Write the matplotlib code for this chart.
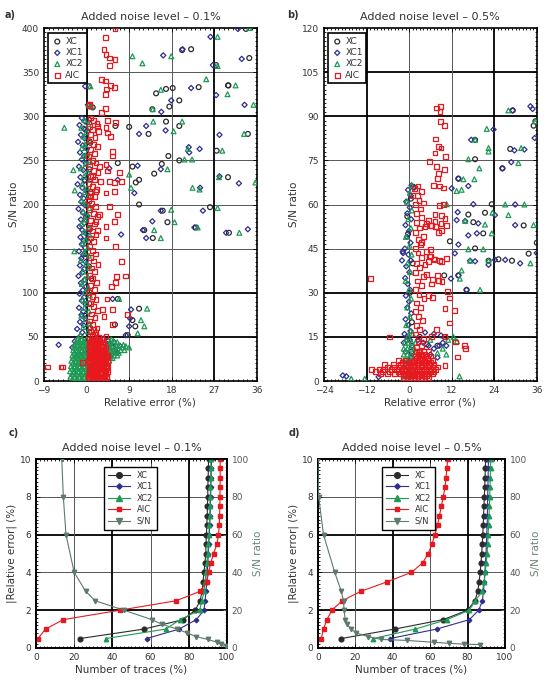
import matplotlib
matplotlib.use('Agg')
import matplotlib.pyplot as plt
import numpy as np
from matplotlib.ticker import MultipleLocator

plt.rcParams['font.family'] = 'DejaVu Sans'
plt.rcParams['xtick.direction'] = 'in'
plt.rcParams['ytick.direction'] = 'in'

# ---------------- colours ----------------
c_xc = '#2b2b2b'
c_xc1 = '#2e2e8f'
c_xc2 = '#1f9a55'
c_aic = '#e8191e'
c_sn = '#5d7a6b'
txt = '#333333'

# ---------------- panel a: noise 0.1 % (relative error %, S/N) ----------------
xc_a = [(33.7, 399), (22.1, 376), (20.2, 375), (27.4, 358), (18.2, 332), (23.7, 333), (16.8, 331),
        (29.9, 335), (14.7, 326), (13.9, 308), (17.5, 311), (19.6, 318), (6.1, 289), (9.0, 288),
        (16.8, 294), (19.6, 289), (13.1, 280), (34.1, 280), (27.5, 261), (15.9, 246), (17.3, 255),
        (19.6, 250), (14.3, 235), (11.1, 228), (10.4, 225), (9.7, 243), (6.6, 247), (29.9, 231),
        (34.4, 366), (30.0, 335), (11.1, 200), (16.1, 193), (17.1, 180), (23.1, 174), (26.1, 197),
        (30.1, 168), (14.0, 162), (12.2, 171), (11.1, 82), (9.7, 69), (10.3, 62), (8.7, 52),
        (6.6, 93), (6.0, 64), (0.5, 296), (-0.2, 285), (0.8, 270), (0.0, 255), (0.6, 240),
        (-0.4, 228), (0.9, 214), (0.2, 200), (-0.1, 186), (0.7, 172), (0.3, 158), (-0.3, 144),
        (0.5, 130), (1.0, 116), (0.1, 102), (0.6, 88), (-0.2, 74), (0.8, 60), (0.3, 48),
        (1.2, 36), (5.2, 30), (6.0, 35), (4.6, 45), (0.7, 313), (0.5, 334), (1.3, 310)]
xc1_a = [(16.2, 369), (20.3, 376), (26.2, 390), (32.0, 399), (32.8, 365), (27.4, 324), (33.4, 313),
         (22.1, 332), (28.1, 279), (23.9, 263), (21.6, 265), (21.7, 259), (15.7, 240), (10.8, 244),
         (12.6, 289), (11.1, 280), (16.7, 284), (17.9, 318), (28.1, 232), (32.2, 224), (24.0, 219),
         (10.1, 213), (4.8, 241), (6.6, 228), (26.7, 358), (15.8, 305), (15.7, 193), (13.9, 181),
         (11.9, 171), (12.6, 162), (24.6, 193), (22.8, 174), (29.5, 168), (34.1, 172), (7.3, 166),
         (9.4, 81), (9.2, 71), (9.0, 62), (8.3, 52), (-5.9, 41), (5.5, 93), (0.3, 313), (-0.3, 334),
         (-1.0, 298), (-0.3, 294), (-1.5, 290), (-0.6, 286), (0.2, 283), (-1.2, 279), (-0.4, 275),
         (-1.8, 271), (-0.8, 267), (0.1, 263), (-1.4, 259), (-0.5, 255), (-1.0, 251), (-0.2, 247),
         (-1.6, 243), (-0.7, 239), (0.3, 235), (-1.3, 231), (-0.4, 227), (-1.9, 223), (-0.9, 219),
         (0.0, 215), (-1.4, 211), (-0.6, 207), (-1.1, 203), (-0.3, 199), (-1.7, 195), (-0.8, 191),
         (0.2, 187), (-1.2, 183), (-0.5, 179), (-1.5, 175), (-0.9, 171), (-0.1, 167), (-1.3, 163),
         (-0.6, 159), (-1.0, 155), (-0.3, 151), (-1.6, 147), (-0.7, 143), (-1.1, 139), (-0.2, 135),
         (-1.4, 131), (-0.5, 127), (-0.9, 123), (-1.7, 119), (-0.4, 115), (-1.2, 111), (-0.1, 107),
         (-0.8, 103), (-1.5, 99), (-0.5, 95), (-1.0, 91), (-0.2, 87), (-1.6, 83), (-0.7, 79),
         (-1.1, 75), (-0.3, 71), (-1.4, 67), (-0.6, 63), (-2.0, 59), (-0.9, 55), (-1.3, 51),
         (-2.5, 45), (-3.0, 38), (-1.8, 30), (4.5, 42), (5.5, 38), (3.8, 20), (5.0, 28),
         (-2.2, 12), (6.5, 32), (4.2, 10), (5.8, 44), (7.0, 40), (3.5, 48)]
xc2_a = [(27.7, 390), (9.7, 368), (17.9, 368), (11.8, 360), (15.7, 330), (25.3, 342), (31.5, 335),
         (29.8, 325), (35.3, 313), (14.0, 308), (14.1, 294), (20.2, 294), (18.4, 283), (33.3, 280),
         (28.7, 261), (21.4, 263), (22.3, 251), (20.7, 251), (17.1, 240), (9.0, 234), (22.4, 219),
         (35.7, 225), (9.4, 219), (-4.7, 287), (-2.8, 239), (-2.5, 216), (27.7, 357), (28.0, 231),
         (23.9, 217), (34.4, 400), (17.9, 194), (18.6, 180), (15.7, 162), (14.3, 171), (23.5, 174),
         (27.7, 196), (32.3, 168), (12.8, 82), (11.5, 69), (12.2, 62), (10.8, 54), (-2.6, 147),
         (6.9, 93), (0.8, 334), (1.0, 311), (0.4, 313),
         (-0.5, 296), (0.4, 291), (-1.1, 287), (0.0, 282), (-0.7, 277), (0.6, 273), (-0.3, 268),
         (-1.0, 264), (0.2, 259), (-0.6, 255), (0.7, 250), (-0.2, 246), (-1.2, 241), (0.3, 237),
         (-0.5, 232), (0.8, 228), (-0.9, 223), (0.1, 219), (-0.4, 214), (0.5, 210), (-1.1, 205),
         (-0.1, 201), (0.6, 196), (-0.7, 192), (0.2, 187), (-0.3, 183), (-1.0, 178), (0.4, 174),
         (-0.6, 169), (0.7, 165), (-0.2, 160), (-0.8, 156), (0.3, 151), (-0.5, 146), (0.5, 142),
         (-1.2, 137), (-0.1, 133), (0.6, 128), (-0.7, 124), (0.2, 119), (-0.4, 115), (-1.0, 110),
         (0.4, 106), (-0.3, 101), (0.7, 97), (-0.8, 92), (0.1, 88), (-0.5, 83), (0.5, 79),
         (-1.1, 74), (-0.2, 70), (0.6, 65), (-0.7, 61), (0.3, 56), (-1.3, 52),
         (-3.0, 2), (-2.0, 2), (-1.0, 2), (0.0, 2), (0.8, 2),
         (-3.4, 5), (-2.5, 5), (-1.5, 5), (-0.5, 5), (0.5, 5),
         (-3.1, 8), (-2.1, 8), (-1.1, 8), (-0.1, 8), (0.9, 8),
         (-3.5, 11), (-2.6, 11), (-1.6, 11), (-0.6, 11), (0.4, 11),
         (-3.0, 14), (-2.0, 14), (-1.0, 14), (0.0, 14), (0.9, 14),
         (-3.3, 17), (-2.4, 17), (-1.4, 17), (-0.4, 17), (0.6, 17),
         (-2.9, 20), (-1.9, 20), (-0.9, 20), (0.1, 20), (1.0, 20),
         (-3.2, 23), (-2.2, 23), (-1.2, 23), (-0.2, 23), (0.7, 23), (4.8, 23),
         (-2.8, 26), (-1.8, 26), (-0.8, 26), (0.2, 26), (4.5, 26), (5.5, 26),
         (-3.0, 29), (-2.0, 29), (-1.0, 29), (0.0, 29), (4.6, 29), (5.8, 29), (6.5, 29),
         (-2.6, 32), (-1.6, 32), (-0.6, 32), (0.4, 32), (4.5, 32), (5.5, 32), (6.8, 32),
         (-2.8, 35), (-1.9, 35), (-0.9, 35), (0.1, 35), (4.4, 35), (5.6, 35), (7.2, 35), (8.0, 35),
         (-2.4, 38), (-1.5, 38), (-0.5, 38), (0.5, 38), (4.6, 38), (6.0, 38), (7.5, 38), (9.0, 38),
         (-2.6, 41), (-1.7, 41), (-0.7, 41), (0.3, 41), (4.8, 41), (6.3, 41), (7.8, 41),
         (-2.2, 44), (-1.3, 44), (-0.3, 44), (0.6, 44), (5.0, 44), (6.5, 44),
         (-2.0, 47), (-1.0, 47), (0.0, 47), (0.8, 47), (5.2, 47),
         (-2.5, 3.5), (-1.5, 3.5), (-0.5, 3.5), (0.4, 3.5),
         (-2.7, 9.5), (-1.7, 9.5), (-0.7, 9.5), (0.3, 9.5),
         (-2.5, 15.5), (-1.5, 15.5), (-0.5, 15.5), (0.5, 15.5),
         (-2.4, 21.5), (-1.4, 21.5), (-0.4, 21.5), (0.5, 21.5),
         (-2.3, 27.5), (-1.3, 27.5), (-0.3, 27.5), (5.0, 27.5),
         (-2.1, 33.5), (-1.1, 33.5), (-0.1, 33.5), (5.0, 33.5), (6.2, 33.5),
         (-2.0, 39.5), (-1.0, 39.5), (0.0, 39.5), (5.3, 39.5), (6.8, 39.5), (8.3, 39.5),
         (-1.6, 45.5), (-0.6, 45.5), (5.7, 45.5)]
aic_a = [(6.0, 399), (4.0, 389), (3.7, 376), (4.1, 370), (4.8, 366), (6.0, 364), (4.8, 358), (3.1, 342),
         (4.0, 340), (5.9, 333), (4.2, 331), (5.1, 335), (4.0, 325), (4.0, 309), (3.2, 304),
         (0.6, 314), (0.6, 312), (4.4, 295), (6.2, 293), (4.1, 287), (4.4, 281), (5.1, 277),
         (5.5, 260), (5.4, 255), (2.3, 289), (2.7, 243), (4.1, 245), (4.4, 238), (6.9, 236),
         (1.3, 232), (3.0, 226), (4.8, 226), (5.9, 225), (2.0, 215), (4.1, 213), (0.9, 209),
         (7.3, 226), (5.9, 215), (4.8, 198), (2.7, 189), (6.6, 189), (2.0, 181), (4.1, 175),
         (5.9, 181), (2.3, 171), (4.1, 162), (6.1, 152), (7.3, 135), (8.3, 119), (6.4, 118),
         (6.2, 112), (5.2, 107), (4.3, 93), (3.4, 81), (5.5, 81), (3.7, 73), (8.7, 75), (5.5, 64),
         (4.1, 51), (-8.3, 16), (-5.4, 16), (-5.1, 16), (-0.8, 21),
         (0.8, 298), (1.5, 295), (2.2, 292), (0.6, 288), (1.2, 285), (2.6, 283), (0.9, 279),
         (1.8, 276), (0.5, 272), (1.4, 268), (2.3, 266), (0.8, 262), (1.6, 258), (0.4, 254),
         (1.2, 250), (2.0, 247), (0.7, 243), (1.5, 239), (2.4, 236), (0.9, 232), (1.7, 228),
         (0.5, 224), (1.3, 220), (2.1, 217), (0.8, 213), (1.6, 209), (0.4, 205), (1.1, 201),
         (1.9, 198), (0.7, 194), (1.5, 190), (2.3, 186), (0.9, 182), (1.6, 178), (0.5, 174),
         (1.3, 170), (2.0, 166), (0.8, 162), (1.4, 158), (0.6, 153), (1.2, 148), (1.9, 144),
         (0.8, 140), (1.5, 136), (2.4, 132), (1.0, 128), (1.7, 124), (0.6, 120), (1.3, 116),
         (2.1, 112), (0.9, 108), (1.6, 104), (0.5, 100), (1.2, 96), (2.0, 92), (0.8, 88),
         (1.5, 84), (2.3, 80), (1.0, 76), (1.8, 72), (0.6, 68), (1.3, 64), (2.2, 60), (0.9, 56),
         (1.6, 53), (2.5, 50),
         (0.6, 2), (1.4, 2), (2.2, 2), (3.0, 2), (3.8, 2),
         (0.4, 5), (1.2, 5), (2.0, 5), (2.8, 5), (3.6, 5), (4.3, 5),
         (0.7, 8), (1.5, 8), (2.3, 8), (3.1, 8), (3.9, 8),
         (0.5, 11), (1.3, 11), (2.1, 11), (2.9, 11), (3.7, 11), (4.4, 11),
         (0.8, 14), (1.6, 14), (2.4, 14), (3.2, 14), (4.0, 14),
         (0.5, 17), (1.3, 17), (2.1, 17), (2.9, 17), (3.7, 17), (4.5, 17),
         (0.7, 20), (1.5, 20), (2.3, 20), (3.1, 20), (3.9, 20),
         (0.4, 23), (1.2, 23), (2.0, 23), (2.8, 23), (3.6, 23), (4.4, 23),
         (0.8, 26), (1.6, 26), (2.4, 26), (3.2, 26), (4.0, 26),
         (0.5, 29), (1.3, 29), (2.1, 29), (2.9, 29), (3.7, 29), (4.5, 29),
         (0.7, 32), (1.5, 32), (2.3, 32), (3.1, 32), (3.9, 32),
         (0.5, 35), (1.3, 35), (2.1, 35), (2.9, 35), (3.7, 35),
         (0.8, 38), (1.6, 38), (2.4, 38), (3.2, 38), (4.0, 38),
         (0.6, 41), (1.4, 41), (2.2, 41), (3.0, 41), (3.6, 41),
         (0.9, 44), (1.7, 44), (2.5, 44), (3.3, 44),
         (0.7, 47), (1.5, 47), (2.3, 47), (3.1, 47),
         (1.0, 3.5), (1.8, 3.5), (2.6, 3.5), (3.4, 3.5), (4.2, 3.5),
         (0.8, 9.5), (1.6, 9.5), (2.4, 9.5), (3.2, 9.5), (4.0, 9.5),
         (1.0, 15.5), (1.8, 15.5), (2.6, 15.5), (3.4, 15.5), (4.2, 15.5),
         (0.9, 21.5), (1.7, 21.5), (2.5, 21.5), (3.3, 21.5), (4.1, 21.5),
         (1.0, 27.5), (1.8, 27.5), (2.6, 27.5), (3.4, 27.5), (4.2, 27.5),
         (0.9, 33.5), (1.7, 33.5), (2.5, 33.5), (3.3, 33.5),
         (1.0, 39.5), (1.8, 39.5), (2.6, 39.5), (3.4, 39.5),
         (1.1, 45.5), (1.9, 45.5), (2.7, 45.5), (1.2, 52), (2.0, 55), (1.4, 58)]

# ---------------- panel b: noise 0.5 % ----------------
xc_b = [(29.2, 92.0), (35.6, 88.3), (35.1, 86.8), (18.6, 82.0), (28.5, 78.9), (26.3, 72.3),
        (18.6, 75.4), (13.9, 68.8), (23.3, 60.1), (21.4, 57.2), (32.3, 52.9), (18.1, 54.0),
        (20.9, 50.2), (11.5, 47.5), (18.6, 45.1), (36.0, 47.0), (33.7, 43.3), (22.4, 40.9),
        (25.2, 41.4), (29.0, 40.9), (9.9, 35.9), (16.2, 31.0), (16.7, 56.6), (13.9, 35.9),
        (0.5, 62), (-0.3, 50), (1.0, 40), (0.2, 30), (0.8, 20), (-0.5, 14), (3.0, 15),
        (5.0, 12.5), (8.0, 12), (10.0, 15), (-0.5, 56), (1.2, 66), (0.6, 10), (-1.0, 6)]
xc1_b = [(29.2, 92.0), (34.2, 93.4), (34.8, 92.5), (35.4, 82.6), (23.8, 85.5), (17.5, 82.0),
         (29.7, 78.4), (32.5, 78.7), (28.8, 74.4), (26.3, 72.3), (13.9, 68.8), (16.7, 66.3),
         (12.0, 65.5), (1.4, 65.7), (0.7, 66.5), (18.1, 60.1), (29.9, 60.0), (24.2, 56.4),
         (29.9, 53.0), (13.4, 54.7), (15.8, 54.4), (19.5, 53.6), (19.1, 50.2), (16.7, 49.5),
         (13.9, 46.4), (12.9, 43.4), (-1.7, 43.5), (36.0, 43.5), (17.2, 40.9), (18.6, 40.7),
         (24.2, 41.2), (27.1, 41.2), (31.3, 40.0), (22.4, 39.5), (13.9, 35.9), (11.8, 34.8),
         (16.2, 31.0), (13.7, 57.4), (-18.7, 1.9), (-17.7, 1.6), (-8.6, 1.4),
         (-0.3, 65), (0.5, 63), (-0.8, 61), (0.2, 59), (-0.5, 57), (0.6, 55), (-1.0, 53),
         (0.0, 51), (-0.6, 49), (0.4, 47), (-1.2, 45), (-0.2, 43), (0.5, 41), (-0.8, 39),
         (0.1, 37), (-1.1, 35), (-0.4, 33), (0.3, 31), (-0.9, 29), (0.0, 27), (-0.5, 25),
         (0.6, 23), (-1.0, 21), (-0.2, 19), (0.4, 17), (-1.3, 16), (-0.6, 15), (0.2, 14),
         (-1.5, 13), (2.5, 14), (4.0, 13), (5.5, 12), (7.0, 11), (8.5, 12), (9.5, 13),
         (6.0, 9), (8.0, 8), (3.0, 10), (10.5, 12), (9.0, 15.5), (4.5, 16.5), (7.0, 16),
         (-1.8, 44), (-2.0, 41), (-1.5, 2), (-0.5, 5), (0.5, 8), (1.5, 3), (-1.0, 10), (0.8, 12)]
xc2_b = [(28.0, 92.0), (35.6, 88.3), (21.9, 85.7), (18.6, 82.0), (22.4, 79.2), (22.4, 78.0),
         (31.6, 79.2), (30.8, 74.1), (19.8, 72.3), (16.7, 75.4), (15.3, 68.6), (18.4, 68.6),
         (14.8, 65.0), (13.4, 64.6), (0.7, 66.5), (10.6, 60.1), (27.1, 60.0), (32.5, 60.0),
         (23.5, 57.2), (28.0, 56.4), (35.1, 53.0), (15.8, 54.4), (21.4, 53.2), (23.3, 50.2),
         (16.7, 44.8), (20.9, 44.8), (17.2, 40.9), (22.4, 40.9), (34.2, 40.0), (14.8, 37.6),
         (14.3, 34.8), (20.0, 31.0), (-16.3, 0.8), (-12.5, 0.8), (14.2, 1.6),
         (0.2, 64), (-0.6, 61), (0.8, 58), (-0.2, 55), (0.5, 52), (-0.9, 49), (0.1, 46),
         (0.7, 43), (-0.4, 40), (0.3, 37), (-1.0, 34), (0.0, 31), (0.6, 28), (-0.5, 25),
         (0.2, 22), (-0.8, 19), (0.4, 17), (1.0, 16), (-0.3, 15),
         (-1.5, 1), (-0.5, 1), (0.5, 1), (1.5, 1), (-1.5, 3), (-0.5, 3), (0.5, 3), (1.5, 3),
         (-1.5, 5), (-0.5, 5), (0.5, 5), (1.5, 5), (-1.5, 7), (-0.5, 7), (0.5, 7), (1.5, 7),
         (-1.5, 9), (-0.5, 9), (0.5, 9), (1.5, 9), (-1.5, 11), (-0.5, 11), (0.5, 11), (1.5, 11),
         (-1.2, 13), (-0.2, 13), (0.8, 13), (1.8, 13), (5.0, 6), (7.0, 4), (9.5, 11),
         (11.0, 14), (12.5, 15), (13.5, 13.5), (8.0, 9.5), (6.0, 14), (10.5, 9)]
aic_b = [(7.7, 92.8), (8.9, 93.4), (8.7, 91.7), (8.9, 88.3), (9.9, 86.8), (7.5, 82.3), (8.2, 79.8),
         (9.0, 79.2), (7.3, 77.5), (10.3, 76.4), (5.8, 74.5), (7.7, 72.9), (9.9, 71.8), (8.2, 70.6),
         (8.0, 68.8), (6.8, 66.5), (8.5, 66.3), (9.6, 65.6), (1.1, 63.1), (2.5, 66.3),
         (-10.8, 34.8), (-5.5, 15.0), (10.8, 30.3), (11.5, 28.2), (10.1, 24.6), (12.7, 24.0),
         (11.5, 19.7), (7.7, 17.4), (10.1, 15.2), (13.0, 13.3), (15.6, 12.1), (15.8, 11.0),
         (13.7, 8.2), (10.1, 5.3), (6.3, 15.2), (8.2, 34.2), (9.3, 33.7), (6.3, 33.0), (4.9, 36.3),
         (6.1, 44.6), (5.8, 42.4), (7.1, 41.3), (9.2, 40.7), (10.6, 41.6), (6.3, 53.0),
         (7.3, 54.2), (10.1, 55.2), (9.2, 56.4), (8.5, 59.8), (9.6, 60.0), (3.5, 47.1),
         (8.2, 50.5), (9.2, 51.1), (4.9, 53.5), (7.3, 56.7),
         (-1.5, 1), (-0.5, 1), (0.5, 1), (1.5, 1), (2.5, 1), (3.5, 1), (4.5, 1), (5.5, 1),
         (-8.0, 2.5), (-6.0, 2.5), (-4.0, 2.5), (-2.5, 2.5), (-1.5, 2.5), (-0.5, 2.5), (0.5, 2.5),
         (1.5, 2.5), (2.5, 2.5), (3.5, 2.5), (4.5, 2.5), (5.5, 2.5), (6.5, 2.5),
         (-10.5, 4), (-8.5, 4), (-7.0, 4), (-5.0, 4), (-3.5, 4), (-2.0, 4), (-1.0, 4), (0.0, 4),
         (1.0, 4), (2.0, 4), (3.0, 4), (4.0, 4), (5.0, 4), (6.0, 4), (7.5, 4),
         (-7.0, 5.5), (-4.5, 5.5), (-2.5, 5.5), (-1.0, 5.5), (0.5, 5.5), (1.5, 5.5), (2.5, 5.5),
         (3.5, 5.5), (4.5, 5.5), (5.5, 5.5), (7.0, 5.5),
         (-3.0, 7), (-1.0, 7), (1.5, 7), (2.5, 7), (3.5, 7), (4.5, 7), (5.5, 7), (6.5, 7),
         (1.8, 8.5), (2.8, 8.5), (3.8, 8.5), (4.8, 8.5), (6.0, 8.5),
         (2.0, 10), (3.0, 10), (4.0, 10), (5.5, 10),
         (-1.0, 1.8), (0.0, 1.8), (1.0, 1.8), (2.0, 1.8), (3.0, 1.8), (4.0, 1.8), (5.0, 1.8),
         (-9.5, 3.2), (-7.5, 3.2), (-5.5, 3.2), (-3.0, 3.2), (-2.0, 3.2), (-1.0, 3.2), (0.0, 3.2),
         (1.0, 3.2), (2.0, 3.2), (3.0, 3.2), (4.0, 3.2), (5.0, 3.2), (6.0, 3.2), (7.0, 3.2),
         (-6.0, 4.8), (-4.0, 4.8), (-3.0, 4.8), (-1.5, 4.8), (-0.5, 4.8), (0.5, 4.8), (1.5, 4.8),
         (2.5, 4.8), (3.5, 4.8), (4.5, 4.8), (5.5, 4.8), (6.5, 4.8), (8.0, 4.8),
         (-2.0, 6.2), (0.0, 6.2), (1.0, 6.2), (2.0, 6.2), (3.0, 6.2), (4.0, 6.2), (5.0, 6.2),
         (6.0, 6.2), (2.2, 7.8), (3.2, 7.8), (4.2, 7.8), (5.2, 7.8), (2.5, 9.2), (3.5, 9.2),
         (4.5, 9.2),
         (2.0, 11.5), (3.5, 12), (2.5, 13.5), (4.0, 14.5), (1.8, 16), (3.0, 17.5), (2.2, 19),
         (3.8, 20.5), (2.6, 22), (1.7, 23.5), (3.2, 25), (2.0, 26.5), (4.2, 28), (2.8, 29.5),
         (5.5, 29), (6.5, 28.5), (1.9, 31), (3.4, 32.5), (2.3, 34), (4.0, 35.5), (6.5, 34.5),
         (8.0, 36), (1.8, 37), (3.0, 38.5), (4.5, 39.5), (2.2, 40), (5.5, 40.5), (7.0, 41.5),
         (8.5, 41), (6.0, 42.5), (3.6, 42), (2.5, 43.5), (4.8, 44), (1.9, 45), (3.2, 46.5),
         (2.6, 48), (4.0, 49), (1.8, 50.5), (3.0, 52), (4.5, 52.5), (6.0, 53), (7.5, 52.5),
         (9.0, 53.5), (10.5, 53), (5.5, 54.5), (2.2, 54), (3.6, 55.5), (2.0, 57), (3.2, 58.5),
         (1.7, 60), (2.8, 61.5), (4.0, 60.5), (2.4, 63), (3.5, 64.5), (1.6, 65.5)]

# ---------------- panels c/d: cumulative curves ----------------
err_levels = [0.5, 1.0, 1.5, 2.0, 2.5, 3.0, 3.5, 4.0, 4.5, 5.0, 5.5, 6.0, 6.5, 7.0, 7.5, 8.0,
              8.5, 9.0, 9.5, 10.0]
xc_c = [23, 56.6, 77, 83.4, 86, 87, 87.5, 88, 88.5, 89, 89, 89.3, 89.5, 89.7, 89.8, 90, 90, 90.2, 90.3, 90.4]
xc1_c = [58, 75, 84, 88, 88.6, 89, 89.5, 89.8, 90, 90.3, 90.5, 90.8, 91, 91.2, 91.3, 91.5, 91.6, 91.7, 91.8, 92]
xc2_c = [36.7, 68, 75.5, 85.7, 87, 88, 88.6, 89, 89.5, 90, 90.3, 90.6, 90.8, 91, 91.1, 91.3, 91.4, 91.5, 91.6, 91.6]
aic_c = [1, 5, 14.3, 44, 73.4, 86, 89.5, 90.4, 91.6, 93, 94.8, 95.6, 96, 96.2, 96.3, 96.4, 96.4, 96.5, 96.5, 96.5]
sn_c_x = [13.5, 14.3, 15.7, 20, 26, 31, 46, 60.7, 66, 74, 79, 84, 90, 95, 97, 99.6]
sn_c_y = [100, 80, 60, 40, 30, 25, 20, 15, 12.5, 10, 8, 6, 4.5, 3, 2, 1]

xc_d = [12.5, 41, 67, 80, 84, 85.5, 86.2, 86.8, 87.2, 87.6, 87.9, 88.2, 88.4, 88.6, 88.8, 89,
        89.2, 89.4, 89.5, 89.7]
xc1_d = [38.6, 63.5, 81, 86, 88, 88.5, 89, 89.3, 89.6, 89.9, 90.1, 90.3, 90.5, 90.6, 90.7,
         90.8, 90.9, 91, 91.1, 91.2]
xc2_d = [29.7, 52, 69, 81, 84, 88, 88.8, 89.5, 90, 90.5, 90.8, 91, 91.3, 91.5, 91.7, 91.9,
         92, 92.2, 92.3, 92.5]
aic_d = [1.8, 3, 4.8, 7.5, 13, 23, 37, 50, 56, 59, 61, 62.6, 64, 65, 66, 67, 68, 68.5, 69, 69.4]
sn_d_x = [0, 0.4, 3, 9, 12.5, 13.7, 14, 14.6, 15.5, 17.8, 20.5, 26.7, 34, 47.5, 62, 70, 78, 86.7]
sn_d_y = [100, 80, 60, 40, 30, 25, 20, 15, 12.5, 10, 8, 6, 4.5, 4, 3, 2.5, 2, 1.8]

fig = plt.figure(figsize=(5.5, 6.82), dpi=100)


def style_axes(ax):
    ax.tick_params(which='both', top=True, right=True, labelsize=6.5, colors='black',
                   labelcolor=txt, width=0.6)
    ax.tick_params(which='major', length=3)
    ax.tick_params(which='minor', length=1.5)
    for s in ax.spines.values():
        s.set_linewidth(1.2)


def scatter_panel(rect, data, xlim, xticks, xminor, ylim, yticks, yminor, hthick, vthick, title, letter, lx):
    ax = fig.add_axes(rect)
    # grid
    for y in yticks[1:-1]:
        ax.axhline(y, color='black' if y in hthick else '#555555',
                   lw=1.3 if y in hthick else 0.7, zorder=1)
    for x in xticks[1:-1]:
        ax.axvline(x, color='black' if x in vthick else '#555555',
                   lw=1.3 if x in vthick else 0.7, zorder=1)
    styles = [('XC', 'o', c_xc), ('XC1', 'D', c_xc1), ('XC2', '^', c_xc2), ('AIC', 's', c_aic)]
    for (lab, m, c), pts in zip(styles, data):
        arr = np.array(pts)
        ax.scatter(arr[:, 0], arr[:, 1], marker=m, facecolors='none', edgecolors=c,
                   s=12 if m != 'D' else 7, linewidths=0.9, label=lab, zorder=3)
    ax.set_xlim(xlim)
    ax.set_ylim(ylim)
    ax.set_xticks(xticks)
    ax.set_xticklabels([str(t).replace('-', '\u2212') for t in xticks])
    ax.set_yticks(yticks)
    ax.xaxis.set_minor_locator(MultipleLocator(xminor))
    ax.yaxis.set_minor_locator(MultipleLocator(yminor))
    style_axes(ax)
    ax.set_xlabel('Relative error (%)', fontsize=7.5, color=txt, labelpad=2)
    ax.set_ylabel('S/N ratio', fontsize=7.5, color=txt, labelpad=2)
    ax.set_title(title, fontsize=8, color=txt, pad=6)
    leg = ax.legend(loc='upper left', bbox_to_anchor=(0.02, 0.985), fontsize=6.5, frameon=True,
                    fancybox=False, framealpha=1, borderpad=0.4, handletextpad=0.3,
                    labelspacing=0.25, handlelength=1.2, borderaxespad=0)
    leg.get_frame().set_edgecolor('black')
    leg.get_frame().set_linewidth(1.2)
    for t in leg.get_texts():
        t.set_color(txt)
    fig.text(lx, 0.985, letter, fontsize=7, fontweight='bold', color=txt, va='top')
    return ax


scatter_panel([0.080, 0.4413, 0.387, 0.5176], [xc_a, xc1_a, xc2_a, aic_a],
              (-9, 36), [-9, 0, 9, 18, 27, 36], 1, (0, 400), list(range(0, 401, 50)), 5,
              [50, 100, 300], [0, 27], 'Added noise level \u2013 0.1%', 'a)', 0.008)
scatter_panel([0.589, 0.4413, 0.387, 0.5176], [xc_b, xc1_b, xc2_b, aic_b],
              (-24, 36), [-24, -12, 0, 12, 24, 36], 1, (0, 120), list(range(0, 121, 15)), 1.5,
              [15, 30, 90, 105], [-12, 24], 'Added noise level \u2013 0.5%', 'b)', 0.522)


def curve_panel(rect, xc, xc1, xc2, aic, snx, sny, title, letter, lx, legx):
    ax = fig.add_axes(rect)
    for y in [2, 4, 6, 8]:
        thick = y in (2, 6)
        ax.axhline(y, color='black' if thick else '#555555', lw=1.3 if thick else 0.7, zorder=1)
    for x in [20, 40, 60, 80]:
        thick = x in (40, 80)
        ax.axvline(x, color='black' if thick else '#555555', lw=1.3 if thick else 0.7, zorder=1)
    h1, = ax.plot(xc, err_levels, '-o', color=c_xc, ms=3.4, lw=0.8, label='XC', zorder=3)
    h2, = ax.plot(xc1, err_levels, '-D', color=c_xc1, ms=2.3, lw=0.8, label='XC1', zorder=3)
    h3, = ax.plot(xc2, err_levels, '-^', color=c_xc2, ms=3.2, lw=0.8, label='XC2', zorder=3)
    h4, = ax.plot(aic, err_levels, '-s', color=c_aic, ms=3.0, lw=0.8, label='AIC', zorder=3)
    ax.set_xlim(0, 100)
    ax.set_ylim(0, 10)
    ax.set_xticks([0, 20, 40, 60, 80, 100])
    ax.set_yticks([0, 2, 4, 6, 8, 10])
    ax.xaxis.set_minor_locator(MultipleLocator(2))
    ax.yaxis.set_minor_locator(MultipleLocator(0.2))
    style_axes(ax)
    ax.tick_params(which='both', right=False)
    ax.set_xlabel('Number of traces (%)', fontsize=7.5, color=txt, labelpad=2)
    ax.set_ylabel('|Relative error| (%)', fontsize=7.5, color=txt, labelpad=2)
    ax.set_title(title, fontsize=8, color=txt, pad=6)
    ax2 = ax.twinx()
    h5, = ax2.plot(snx, sny, '-v', color=c_sn, ms=3.2, lw=0.8, label='S/N', zorder=3)
    ax2.set_ylim(0, 100)
    ax2.set_yticks([0, 20, 40, 60, 80, 100])
    ax2.yaxis.set_minor_locator(MultipleLocator(2))
    ax2.tick_params(which='both', labelsize=6.5, labelcolor='#555555', width=0.6, color=c_sn)
    ax2.tick_params(which='major', length=3)
    ax2.tick_params(which='minor', length=1.5)
    for s in ax2.spines.values():
        s.set_linewidth(1.2)
    ax2.set_ylabel('S/N ratio', fontsize=7.5, color='#6a8575', labelpad=3)
    leg = ax2.legend(handles=[h1, h2, h3, h4, h5], loc='upper center', bbox_to_anchor=(legx, 0.96),
                     fontsize=6, frameon=True, fancybox=False, framealpha=1, borderpad=0.5,
                     handletextpad=0.8, labelspacing=0.3, handlelength=2.6, borderaxespad=0,
                     markerscale=1.2)
    leg.get_frame().set_edgecolor('black')
    leg.get_frame().set_linewidth(1.0)
    for t in leg.get_texts():
        t.set_color(txt)
    fig.text(lx, 0.372, letter, fontsize=7, fontweight='bold', color=txt, va='top')


curve_panel([0.0655, 0.0499, 0.347, 0.277], xc_c, xc1_c, xc2_c, aic_c, sn_c_x, sn_c_y,
            'Added noise level \u2013 0.1%', 'c)', 0.015, 0.495)
curve_panel([0.578, 0.0499, 0.34, 0.277], xc_d, xc1_d, xc2_d, aic_d, sn_d_x, sn_d_y,
            'Added noise level \u2013 0.5%', 'd)', 0.525, 0.485)

fig.savefig('out.png', dpi=100)
